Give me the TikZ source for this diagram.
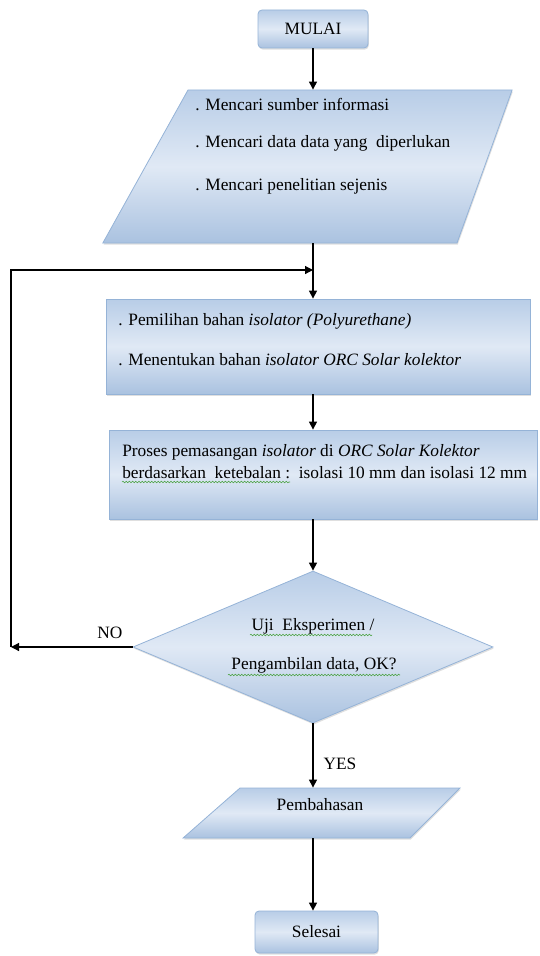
\documentclass[tikz,border=0pt]{standalone}
\usepackage{fontspec}
\setmainfont{Liberation Serif}
\usetikzlibrary{shapes.geometric,arrows.meta,shadows,decorations.pathmorphing}

\definecolor{boxline}{RGB}{149,179,215}
\definecolor{boxtop}{RGB}{184,205,231}
\definecolor{boxmid}{RGB}{224,233,245}
\definecolor{boxbot}{RGB}{170,194,224}
\definecolor{spellgreen}{RGB}{70,160,60}
\newcommand{\flowfont}{\fontsize{13}{15}\selectfont}

\begin{document}
\begin{tikzpicture}[x=0.75pt,y=0.75pt,yscale=-1,xscale=1,
  flowshape/.style={draw=boxline, line width=0.6pt, top color=boxtop, bottom color=boxbot, middle color=boxmid, inner sep=0pt,
    drop shadow={shadow xshift=0.6pt, shadow yshift=-1.2pt, opacity=0.25}},
  startbox/.style={flowshape, rectangle, rounded corners=3pt, font=\flowfont},
  procbox/.style={flowshape, rectangle},
  iobox/.style={flowshape, trapezium, text depth=0pt},
  decision/.style={flowshape, diamond, inner sep=2pt},
  txt/.style={font=\flowfont, inner sep=0pt},
  flowarrow/.style={-{Triangle[length=6pt,width=6pt]}, line width=0.9pt},
  spell/.style={spellgreen, line width=0.4pt, decorate, decoration={snake, amplitude=0.6pt, segment length=2.4pt}}]
\useasboundingbox (0,0) rectangle (539,956);
\coordinate (spine) at (313,0);

%Shape: Terminator
\node[startbox, minimum width=82.5pt, minimum height=28.5pt] (mulai) at (313,29) {MULAI};

%Shape: Data
\node[iobox, text width=201.75pt, text height=114.75pt, trapezium left angle=60.9, trapezium right angle=109.8] (info) at (322.5,166.5) {};
% Text Node
\node[txt, anchor=west] (info-a) at (195,105) {. Mencari sumber informasi};
\node[txt, anchor=west] (info-b) at (195,143) {. Mencari data data yang\ \ diperlukan};
\node[txt, anchor=west] (info-c) at (195,186) {. Mencari penelitian sejenis};

%Shape: Process
\node[procbox, minimum width=318pt, minimum height=71.25pt] (pilih) at (318,346.5) {};
% Text Node
\node[txt, anchor=west] (pilih-a) at (118,321) {. Pemilihan bahan \textit{isolator (Polyurethane)}};
\node[txt, anchor=west] (pilih-b) at (118,360) {. Menentukan bahan \textit{isolator ORC Solar kolektor}};

%Shape: Process
\node[procbox, minimum width=321pt, minimum height=66.75pt] (proses) at (323,474.5) {};
% Text Node
\node[txt, anchor=west] (proses-a) at (122,452) {Proses pemasangan \textit{isolator} di \textit{ORC Solar Kolektor}};
\node[txt, anchor=west] (proses-b) at (122,473) {berdasarkan\ \ ketebalan :\ \ isolasi 10 mm dan isolasi 12 mm};

%Shape: Decision
\node[decision, minimum width=270pt, minimum height=114pt, aspect=2.37] (uji) at (313,647) {};
% Text Node
\node[txt] (uji-a) at (313,626) {Uji\ \ Eksperimen /};
\node[txt] (uji-b) at (314,665) {Pengambilan data, OK?};

%Shape: Data
\node[iobox, text width=127.5pt, text height=37.5pt, trapezium left angle=41.3, trapezium right angle=135] (bahas) at (325,813) {};
% Text Node
\node[txt] (bahas-t) at (320,805) {Pembahasan};

%Shape: Terminator
\node[startbox, minimum width=92.25pt, minimum height=31.5pt] (selesai) at (316.5,932) {Selesai};

%Straight Lines
\draw[flowarrow] (mulai.south) -- (spine |- info.north);
\draw[flowarrow] (spine |- info.south) -- (spine |- pilih.north);
\draw[flowarrow] (spine |- pilih.south) -- (spine |- proses.north);
\draw[flowarrow] (spine |- proses.south) -- (uji.north);
\draw[flowarrow] (uji.south) -- (spine |- bahas.north);
\draw[flowarrow] (spine |- bahas.south) -- (spine |- selesai.north);

%Loop back
\coordinate (loop) at (11,270);
\draw[flowarrow] (uji.west) -- (loop |- uji.west);
\draw[flowarrow] (loop |- uji.west) -- (loop) -- (spine |- loop);

% Text Node
\node[txt] (no-lbl) at (110,633) {NO};
\node[txt] (yes-lbl) at (340,764) {YES};

%Spelling marks
\draw[spell] (122,482) -- (290,482);
\draw[spell] (250,635) -- (372,635);
\draw[spell] (228,675) -- (400,675);

\end{tikzpicture}
\end{document}
